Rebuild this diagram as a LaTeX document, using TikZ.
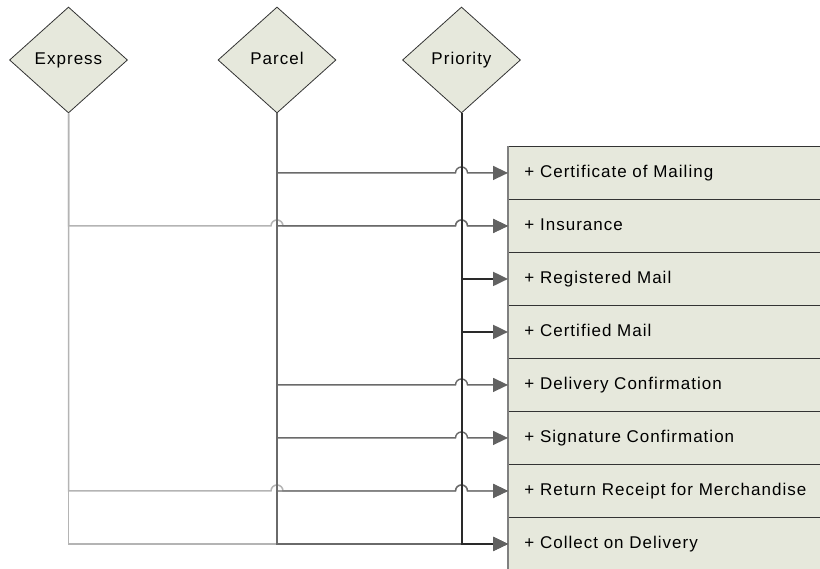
\documentclass[tikz,border=0pt]{standalone}
\usepackage{fontspec}
\setmainfont{Liberation Sans}[LetterSpace=6]
\usetikzlibrary{shapes.geometric,arrows.meta,calc}

\definecolor{panel}{HTML}{E6E8DC}
\definecolor{edgedark}{HTML}{333333}
\definecolor{expgray}{HTML}{B4B4B4}
\definecolor{pargray}{HTML}{6A6A6A}
\definecolor{prigray}{HTML}{2A2A2A}
\definecolor{tipgray}{HTML}{626262}

\tikzset{
  choice/.style={diamond, draw=edgedark, line width=0.8pt, fill=panel,
    inner sep=0pt, minimum width=118, minimum height=106,
    text height=12, text depth=3.5,
    font=\fontsize{17}{20}\selectfont},
  option/.style={rectangle, draw=edgedark, line width=0.9pt, fill=panel,
    anchor=north west, inner xsep=16, inner ysep=0pt, text width=308,
    text height=12, text depth=3.5,
    minimum height=53, align=left, font=\fontsize{17}{20}\selectfont},
  tip/.style={-{Triangle[length=15,width=14,color=tipgray,fill=tipgray]}},
  expline/.style={draw=expgray, line width=1.5pt, tip},
  parline/.style={draw=pargray, line width=1.4pt, tip},
  priline/.style={draw=prigray, line width=2pt, tip}
}

\begin{document}
\begin{tikzpicture}[x=1pt, y=-1pt]
\path[use as bounding box] (0,0) rectangle (820,569);
\clip (0,0) rectangle (820,569);

% shipping services
\node[choice] (express)  at (68.5,60) {Express};
\node[choice] (parcel)   at (277,60)  {Parcel};
\node[choice] (priority) at (461.5,60) {Priority};

% extra services
\foreach \i/\t in {1/Certificate of Mailing, 2/Insurance, 3/Registered Mail,
                   4/Certified Mail, 5/Delivery Confirmation,
                   6/Signature Confirmation, 7/Return Receipt for Merchandise,
                   8/Collect on Delivery}
  \node[option] (r\i) at (508,{146+53*(\i-1)}) {+ \t};
\draw[draw=gray, line width=1.6pt] (r1.north west) -- (r8.south west);

\coordinate (pv) at (parcel.south);
\coordinate (qv) at (priority.south);

% Express
\foreach \i in {2,7}
  \draw[expline] (express.south) |- ($(pv |- r\i.west)-(6,0)$)
    arc[start angle=180, end angle=360, radius=6]
    -- ($(qv |- r\i.west)-(6,0)$)
    arc[start angle=180, end angle=360, radius=6]
    -- (r\i.west);
\draw[expline] (express.south) |- (r8.west);

% Parcel
\foreach \i in {1,2,5,6,7}
  \draw[parline] (parcel.south) |- ($(qv |- r\i.west)-(6,0)$)
    arc[start angle=180, end angle=360, radius=6]
    -- (r\i.west);
\draw[parline] (parcel.south) |- (r8.west);

% Priority
\foreach \i in {3,4,8}
  \draw[priline] (priority.south) |- (r\i.west);
\end{tikzpicture}
\end{document}
